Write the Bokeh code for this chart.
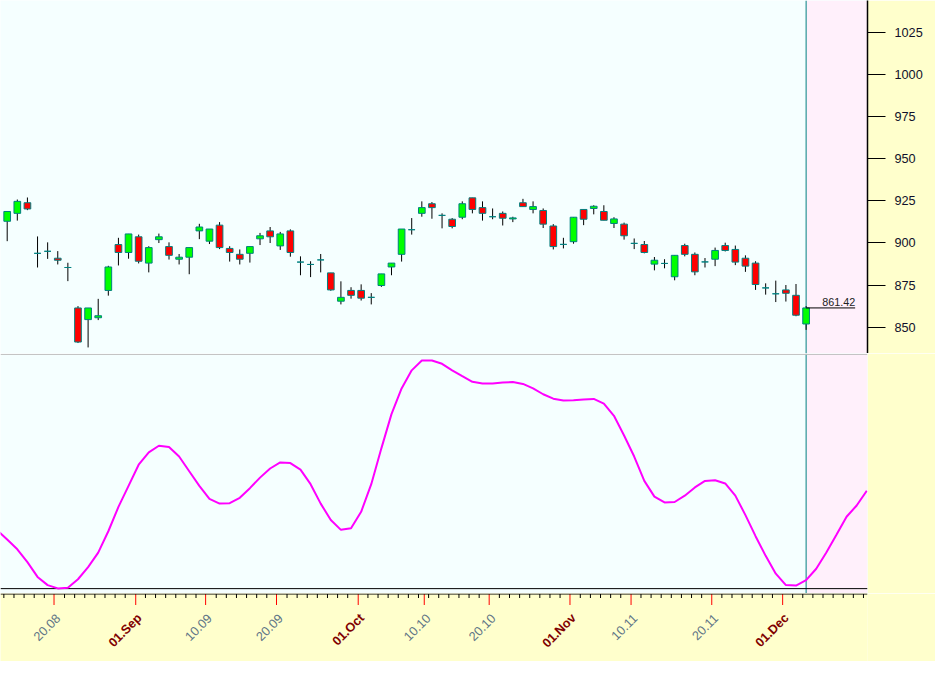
import math
from bokeh.plotting import figure
from bokeh.layouts import column
from bokeh.models import ColumnDataSource, Range1d, FixedTicker, Span, BoxAnnotation
from bokeh.core.properties import value
from bokeh.embed import file_html
from bokeh.resources import INLINE

# ---------------- data ----------------
opens = [912.8, 917.5, 923.8, 893.8, 895.0, 890.9, 885.4, 861.4, 854.5, 855.6,
         871.8, 899.0, 894.3, 903.6, 888.0, 901.9, 897.8, 890.3, 891.5, 907.1,
         901.0, 910.5, 896.7, 893.2, 893.8, 902.4, 907.1, 898.2, 907.1, 888.6,
         887.2, 889.9, 882.2, 865.4, 871.8, 871.8, 867.7, 874.7, 885.7, 893.2,
         907.8, 917.5, 923.2, 916.3, 914.0, 915.2, 926.7, 920.9, 915.5, 917.5,
         914.2, 923.8, 919.8, 919.2, 910.0, 899.1, 900.7, 919.8, 920.4, 918.6,
         911.5, 911.1, 899.7, 899.0, 887.4, 887.8, 879.9, 898.4, 893.2, 888.7,
         890.3, 898.4, 896.1, 890.9, 888.0, 873.3, 869.8, 872.1, 868.9, 851.9]
highs = [918.6, 925.7, 926.9, 903.8, 900.3, 895.1, 888.2, 862.5, 861.4, 866.8,
         886.4, 903.0, 905.3, 904.9, 898.0, 905.5, 900.3, 893.4, 897.2, 911.3,
         908.2, 912.3, 898.0, 896.1, 897.8, 905.9, 909.4, 906.5, 908.0, 892.0,
         889.1, 893.4, 882.2, 877.2, 873.7, 875.4, 870.2, 881.6, 888.0, 908.2,
         914.7, 924.6, 924.2, 917.5, 914.7, 924.6, 926.7, 924.6, 920.4, 918.6,
         915.5, 926.1, 924.6, 920.4, 911.1, 903.0, 915.2, 919.8, 922.3, 922.3,
         915.2, 912.0, 902.6, 901.1, 891.6, 890.3, 892.6, 899.5, 894.3, 891.0,
         897.2, 900.1, 898.4, 892.6, 889.1, 876.0, 877.6, 875.0, 875.6, 862.5]
lows = [901.0, 913.2, 919.4, 885.4, 890.5, 887.2, 877.3, 840.6, 838.0, 854.2,
        868.7, 886.6, 890.6, 887.8, 882.5, 899.9, 890.1, 887.2, 881.4, 902.2,
        899.3, 896.3, 888.9, 887.2, 888.3, 898.7, 899.9, 895.8, 891.8, 880.8,
        879.7, 882.5, 871.6, 863.5, 866.9, 865.8, 863.5, 873.9, 880.8, 888.9,
        904.9, 915.5, 914.3, 908.6, 908.6, 914.0, 917.5, 913.2, 914.0, 910.3,
        912.3, 921.5, 917.5, 908.8, 896.1, 896.7, 899.5, 910.5, 916.9, 913.4,
        908.8, 901.9, 896.3, 893.8, 883.7, 884.9, 877.8, 892.0, 880.8, 885.4,
        886.2, 894.9, 886.8, 882.8, 872.1, 869.3, 864.9, 865.2, 856.5, 848.4]
closes = [918.6, 924.6, 920.1, 893.8, 895.0, 889.7, 885.4, 841.2, 861.4, 856.8,
          885.7, 894.3, 905.3, 889.1, 897.2, 903.6, 892.6, 891.5, 897.2, 909.4,
          908.2, 897.2, 894.3, 890.3, 897.8, 904.2, 903.6, 905.3, 894.3, 888.6,
          887.2, 889.9, 872.1, 867.7, 868.9, 867.2, 867.7, 881.6, 888.0, 908.2,
          907.8, 920.9, 920.9, 916.3, 909.7, 923.2, 919.8, 917.5, 915.5, 914.6,
          914.8, 921.5, 921.5, 911.1, 897.8, 899.1, 915.2, 914.0, 921.7, 913.4,
          914.2, 904.2, 899.7, 894.3, 889.7, 887.8, 892.6, 893.2, 882.8, 888.7,
          895.5, 895.5, 888.6, 886.2, 875.3, 873.3, 869.8, 870.1, 857.1, 861.42]

# oscillator (0 = bottom line, 100 = pane top), by bar index (runs past last bar)
osc_index = list(range(-1, 86))
osc_values = [25.0, 21.0, 16.8, 11.3, 5.0, 1.5, 0.1, 0.4, 4.0, 9.2,
              15.4, 24.5, 34.9, 43.9, 52.9, 58.2, 61.0, 60.5, 56.4, 50.1,
              43.9, 38.3, 36.3, 36.5, 38.8, 42.9, 47.4, 51.3, 53.9, 53.6,
              50.8, 44.6, 36.3, 29.3, 25.1, 25.8, 32.8, 44.6, 59.9, 74.5,
              85.5, 93.2, 97.4, 97.4, 96.0, 93.2, 90.7, 88.3, 87.6, 87.6,
              88.0, 88.2, 87.4, 85.5, 83.0, 81.1, 80.3, 80.4, 80.8, 81.0,
              79.0, 73.8, 65.4, 56.4, 46.0, 39.3, 36.8, 37.0, 39.7, 43.2,
              46.0, 46.3, 44.9, 39.7, 31.4, 22.4, 14.0, 6.4, 1.5, 1.3,
              3.6, 8.5, 15.4, 23.0, 30.7, 35.5, 41.8]

price_ticks = [850, 875, 900, 925, 950, 975, 1000, 1025]
date_tick_pos = [4.63, 12.71, 19.62, 26.63, 34.71, 41.24, 47.66, 55.65, 61.69, 69.67, 76.68]
date_tick_labels = ["20.08", "01.Sep", "10.09", "20.09", "01.Oct", "10.10",
                    "20.10", "01.Nov", "10.11", "20.11", "01.Dec"]

# ---------------- styling / layout ----------------
W = 935
RB = 68
H_TOP = 353
H_MID = 240
H_AX = 68
BG = "#F5FFFF"
PINK = "#FFF0FB"
YEL = "#FFFFCC"
TEAL = "#008080"
FONT = "Liberation Sans"

n = len(closes)
idx = list(range(n))
last = n - 1
x_range = Range1d(-0.662, 85.07)

src = ColumnDataSource(dict(
    x=idx, high=highs, low=lows,
    top=[max(o, c) for o, c in zip(opens, closes)],
    bottom=[min(o, c) for o, c in zip(opens, closes)],
    color=["#00FF00" if c >= o else "#FF0000" for o, c in zip(opens, closes)],
))


def base_fig(height, y_range, y_loc=None):
    f = figure(width=W, height=height, x_range=x_range, y_range=y_range,
               x_axis_location=None, y_axis_location=y_loc,
               toolbar_location=None, output_backend="svg",
               min_border_left=0, min_border_right=RB,
               min_border_top=0, min_border_bottom=0)
    f.border_fill_color = YEL
    f.outline_line_color = None
    f.grid.visible = False
    return f


# ---- price pane ----
p = base_fig(H_TOP, Range1d(834.4, 1043.7), "right")
p.background_fill_color = BG
p.add_layout(BoxAnnotation(left=last, fill_color=PINK, fill_alpha=1,
                           line_color=None, level="underlay"))
p.add_layout(Span(location=last, dimension="height", line_color=TEAL,
                  line_width=1, level="underlay"))
p.segment(x0="x", y0="high", x1="x", y1="low", source=src,
          line_color="black", line_width=1)
p.vbar(x="x", top="top", bottom="bottom", width=0.66, source=src,
       fill_color="color", line_color=TEAL, line_width=1)

lbl_x = last + 4.85
p.segment(x0=[last], y0=[closes[-1]], x1=[lbl_x], y1=[closes[-1]],
          line_color="black", line_width=1)
p.text(x=[lbl_x], y=[closes[-1]], text=[f"{closes[-1]:.2f}"],
       text_align="right", text_baseline="bottom", y_offset=-2,
       text_font=value(FONT), text_font_size="10.8px", text_color="#222222")

ax = p.yaxis[0]
ax.ticker = FixedTicker(ticks=price_ticks, minor_ticks=[])
ax.axis_line_color = "black"
ax.axis_line_width = 1.5
ax.major_tick_out = 18
ax.major_tick_in = 0
ax.minor_tick_out = 0
ax.minor_tick_in = 0
ax.major_tick_line_color = "black"
ax.major_label_standoff = 9
ax.major_label_text_font = FONT
ax.major_label_text_font_size = "12.7px"
ax.major_label_text_color = "#10102a"
ax.major_label_text_baseline = "alphabetic"

# ---- oscillator pane ----
q = base_fig(H_MID, Range1d(-2.08, 100.4))
q.background_fill_color = BG
q.add_layout(BoxAnnotation(left=last, fill_color=PINK, fill_alpha=1,
                           line_color=None, level="underlay"))
q.add_layout(Span(location=last, dimension="height", line_color=TEAL,
                  line_width=1, level="underlay"))
q.add_layout(Span(location=100, dimension="width", line_color="#C0C0C0",
                  line_width=1, level="underlay"))
q.add_layout(Span(location=0, dimension="width", line_color="black",
                  line_width=1, level="underlay"))
q.line(osc_index, osc_values, line_color="#FF00FF", line_width=2)

# ---- date axis strip ----
s = base_fig(H_AX, Range1d(-H_AX + 0.5, 0.5))
s.background_fill_color = YEL
s.add_layout(Span(location=0, dimension="width", line_color="black", line_width=1))

minor_pos = [i - 0.33 for i in range(0, 86)
             if all(abs(i - 0.33 - m) > 0.4 for m in date_tick_pos)]
s.segment(x0=minor_pos, y0=[0] * len(minor_pos), x1=minor_pos,
          y1=[-4] * len(minor_pos), line_color="black", line_width=1)
s.segment(x0=date_tick_pos, y0=[0] * len(date_tick_pos), x1=date_tick_pos,
          y1=[-11] * len(date_tick_pos), line_color="#FF0000", line_width=1)

is_month = [lab.startswith("01.") for lab in date_tick_labels]
day_x = [x for x, m in zip(date_tick_pos, is_month) if not m]
day_t = [t for t, m in zip(date_tick_labels, is_month) if not m]
mon_x = [x for x, m in zip(date_tick_pos, is_month) if m]
mon_t = [t for t, m in zip(date_tick_labels, is_month) if m]

s.text(x=day_x, y=[-22] * len(day_x), text=day_t, angle=math.pi / 4,
       x_offset=4, text_align="right", text_baseline="middle",
       text_font=value(FONT), text_font_size="12.7px", text_color="#5E7486")
s.text(x=mon_x, y=[-22] * len(mon_x), text=mon_t, angle=math.pi / 4,
       x_offset=4, text_align="right", text_baseline="middle",
       text_font=value(FONT), text_font_size="12.7px", text_font_style="bold",
       text_color="#800000")

layout = column(p, q, s, spacing=0)
open("out.html", "w").write(file_html(layout, INLINE))
